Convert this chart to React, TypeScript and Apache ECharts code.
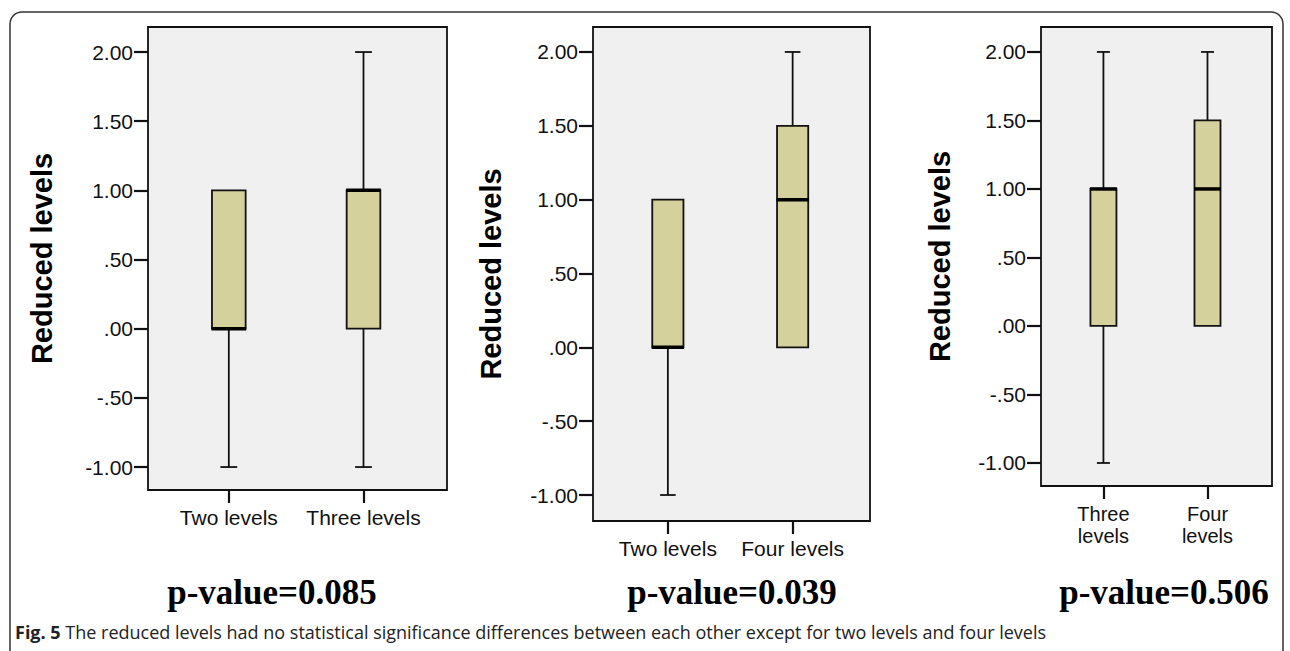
import React, { useEffect, useRef } from "react";
import * as echarts from "echarts";

// ---- data ----
const categories1 = ["Two levels", "Three levels"];
const boxes1 = [
  [-1, 0, 0, 1, 1],
  [-1, 0, 1, 1, 2],
];
const categories2 = ["Two levels", "Four levels"];
const boxes2 = [
  [-1, 0, 0, 1, 1],
  [0, 0, 1, 1.5, 2],
];
const categories3 = ["Three\nlevels", "Four\nlevels"];
const boxes3 = [
  [-1, 0, 1, 1, 2],
  [0, 0, 1, 1.5, 2],
];
const yTickValues = [-1, -0.5, 0, 0.5, 1, 1.5, 2];
const yAxisTitle = "Reduced levels";
const pValueLabels = ["p-value=0.085", "p-value=0.039", "p-value=0.506"];
const captionBold = "Fig. 5";
const captionText =
  " The reduced levels had no statistical significance differences between each other except for two levels and four levels";

// ---- layout (pixels) ----
const panels = [
  { left: 148, right: 447, top: 27, bottom: 490, yMin: -1.166, yMax: 2.181, titleX: 42, pX: 272, catSize: 21, catLH: 21, catMargin: 17 },
  { left: 593, right: 870, top: 27, bottom: 521, yMin: -1.176, yMax: 2.169, titleX: 491, pX: 732, catSize: 21, catLH: 21, catMargin: 17 },
  { left: 1041, right: 1272, top: 27, bottom: 486, yMin: -1.168, yMax: 2.182, titleX: 940, pX: 1164, catSize: 20, catLH: 22, catMargin: 17 },
];
const W = 1290;
const H = 651;

const fmtY = (v: number) => {
  const s = Math.abs(v).toFixed(2).replace(/^0/, "");
  return (v < -1e-9 ? "-" : "") + s;
};

const FONT = "Liberation Sans";

export default function App() {
  const ref = useRef<HTMLDivElement>(null);
  useEffect(() => {
    document.body.style.margin = "0";
    const chart = echarts.init(ref.current!, null, { renderer: "svg" });
    const allCats = [categories1, categories2, categories3];
    const allBoxes = [boxes1, boxes2, boxes3];

    const grid = panels.map((p) => ({
      left: p.left,
      top: p.top,
      width: p.right - p.left,
      height: p.bottom - p.top,
      show: true,
      backgroundColor: "#f0f0f0",
      borderColor: "#111",
      borderWidth: 1.8,
      containLabel: false,
    }));

    const xAxis = panels.map((p, i) => ({
      type: "value",
      gridIndex: i,
      position: "bottom",
      min: -0.6,
      max: 1.62,
      axisLine: { show: false, onZero: false },
      splitLine: { show: false },
      axisTick: {
        show: true,
        inside: false,
        customValues: [0, 1],
        length: 13,
        lineStyle: { color: "#111", width: 2.2 },
      },
      axisLabel: {
        customValues: [0, 1],
        formatter: (v: number) => allCats[i][Math.round(v)],
        fontFamily: FONT,
        fontSize: p.catSize,
        lineHeight: p.catLH,
        color: "#111",
        margin: p.catMargin,
      },
    }));

    const yAxis = panels.map((p, i) => ({
      type: "value",
      gridIndex: i,
      position: "left",
      min: p.yMin,
      max: p.yMax,
      axisLine: { show: false, onZero: false },
      splitLine: { show: false },
      axisTick: {
        show: true,
        inside: false,
        customValues: yTickValues,
        length: 14,
        lineStyle: { color: "#111", width: 2.2 },
      },
      axisLabel: {
        customValues: yTickValues,
        formatter: (v: number) => fmtY(v),
        fontFamily: FONT,
        fontSize: 21,
        color: "#111",
        margin: 15,
      },
    }));

    const renderBox = (params: any, api: any) => {
      const x = api.value(0);
      const lo = api.value(1);
      const q1 = api.value(2);
      const med = api.value(3);
      const q3 = api.value(4);
      const hi = api.value(5);
      const w = api.size([0.25, 0])[0];
      const cw = w / 2;
      const pLo = api.coord([x, lo]);
      const pQ1 = api.coord([x, q1]);
      const pMed = api.coord([x, med]);
      const pQ3 = api.coord([x, q3]);
      const pHi = api.coord([x, hi]);
      const cx = pMed[0];
      const line = { stroke: "#111", lineWidth: 1.8 };
      const children: any[] = [];
      if (hi > q3) {
        children.push({ type: "line", shape: { x1: cx, y1: pQ3[1], x2: cx, y2: pHi[1] }, style: line });
        children.push({ type: "line", shape: { x1: cx - cw / 2, y1: pHi[1], x2: cx + cw / 2, y2: pHi[1] }, style: line });
      }
      if (lo < q1) {
        children.push({ type: "line", shape: { x1: cx, y1: pQ1[1], x2: cx, y2: pLo[1] }, style: line });
        children.push({ type: "line", shape: { x1: cx - cw / 2, y1: pLo[1], x2: cx + cw / 2, y2: pLo[1] }, style: line });
      }
      children.push({
        type: "rect",
        shape: { x: cx - w / 2, y: pQ3[1], width: w, height: pQ1[1] - pQ3[1] },
        style: { fill: "#d4d19c", stroke: "#111", lineWidth: 1.8 },
      });
      children.push({
        type: "line",
        shape: { x1: cx - w / 2 - 0.5, y1: pMed[1], x2: cx + w / 2 + 0.5, y2: pMed[1] },
        style: { stroke: "#000", lineWidth: 3.5 },
      });
      return { type: "group", children };
    };

    const series = allBoxes.map((boxes, i) => ({
      type: "custom",
      xAxisIndex: i,
      yAxisIndex: i,
      renderItem: renderBox,
      encode: { x: 0, y: [1, 2, 3, 4, 5] },
      data: boxes.map((b, k) => [k, ...b]),
      clip: false,
    }));

    const graphic: any[] = [
      {
        type: "rect",
        shape: { x: 10, y: 12, width: 1273, height: 720, r: 12 },
        style: { fill: "none", stroke: "#333", lineWidth: 1.5 },
        silent: true,
      },
    ];
    panels.forEach((p) => {
      graphic.push({
        type: "text",
        x: p.titleX,
        y: (p.top + p.bottom) / 2,
        rotation: Math.PI / 2,
        style: {
          text: yAxisTitle,
          font: `bold 29px "Liberation Sans", Arial, sans-serif`,
          fill: "#000",
          align: "center",
          verticalAlign: "middle",
        },
      });
    });
    panels.forEach((p, i) => {
      graphic.push({
        type: "text",
        x: p.pX,
        y: 592,
        style: {
          text: pValueLabels[i],
          font: 'bold 35px "Liberation Serif", "Times New Roman", serif',
          fill: "#000",
          align: "center",
          verticalAlign: "middle",
        },
      });
    });
    graphic.push({
      type: "text",
      x: 15,
      y: 632,
      style: {
        text: `{b|${captionBold}}${captionText}`,
        font: '18px "Open Sans", sans-serif',
        fill: "#222",
        verticalAlign: "middle",
        rich: {
          b: { fontFamily: "Open Sans", fontWeight: "bold", fontSize: 18, fill: "#222" },
        },
      },
    });

    chart.setOption({
      animation: false,
      backgroundColor: "#fff",
      grid,
      xAxis,
      yAxis,
      series,
      graphic,
    });
    return () => chart.dispose();
  }, []);
  return <div ref={ref} style={{ width: W, height: H }} />;
}
